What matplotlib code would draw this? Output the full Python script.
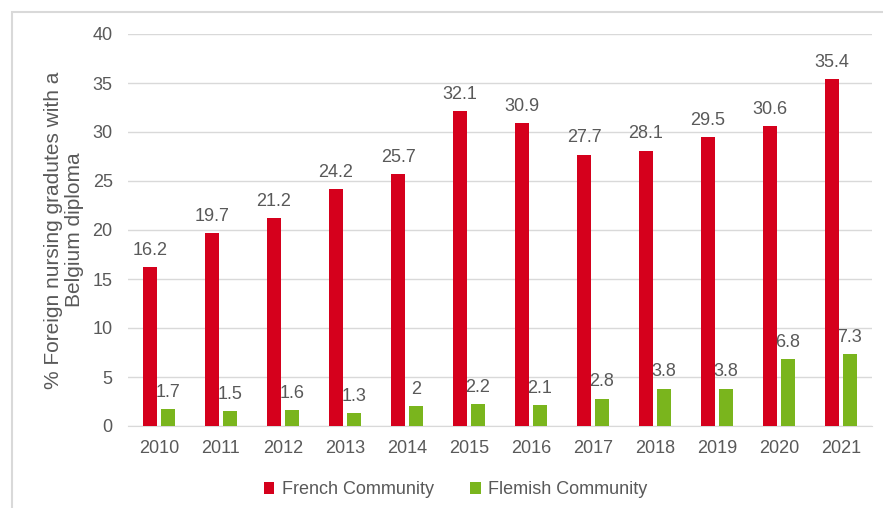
import matplotlib.pyplot as plt
import numpy as np
from matplotlib.patches import Rectangle

plt.rcParams['font.family'] = ['Liberation Sans', 'DejaVu Sans']

years = ['2010', '2011', '2012', '2013', '2014', '2015', '2016', '2017', '2018', '2019', '2020', '2021']
french = [16.2, 19.7, 21.2, 24.2, 25.7, 32.1, 30.9, 27.7, 28.1, 29.5, 30.6, 35.4]
flemish = [1.7, 1.5, 1.6, 1.3, 2, 2.2, 2.1, 2.8, 3.8, 3.8, 6.8, 7.3]

red = '#D5001C'
green = '#7AB51D'
txt = '#595959'
fs = 13

fig = plt.figure(figsize=(8.83, 5.08), dpi=100)
ax = fig.add_axes([128/883, 1-426/508, 744/883, 392/508])

x = np.arange(len(years))
w = 0.226
off = 0.145
ax.bar(x-off, french, w, color=red, label='French Community', zorder=3)
ax.bar(x+off, flemish, w, color=green, label='Flemish Community', zorder=3)

for xi, v in zip(x, french):
    ax.annotate(f'{v:g}', (xi-off, v), xytext=(0, 6), textcoords='offset points',
                ha='center', va='bottom', fontsize=fs, color=txt)
for xi, v in zip(x, flemish):
    ax.annotate(f'{v:g}', (xi+off, v), xytext=(0, 6), textcoords='offset points',
                ha='center', va='bottom', fontsize=fs, color=txt)

ax.set_xlim(-0.5, len(years)-0.5)
ax.set_ylim(0, 40)
ax.set_yticks(np.arange(0, 41, 5))
ax.set_xticks(x)
ax.set_xticklabels(years)
ax.grid(axis='y', color='#D9D9D9', lw=1, zorder=0)
for s in ['top', 'right', 'left']:
    ax.spines[s].set_visible(False)
ax.spines['bottom'].set_color('#D9D9D9')
ax.tick_params(axis='both', length=0, labelsize=fs, colors=txt)
ax.tick_params(axis='x', pad=10)
ax.tick_params(axis='y', pad=11)
ax.set_ylabel('% Foreign nursing gradutes with a\nBelgium diploma', fontsize=15, color=txt,
              labelpad=6, linespacing=1.12)

ax.legend(loc='upper center', bbox_to_anchor=(0.44, -0.1), ncol=2, frameon=False,
          fontsize=fs, labelcolor=txt, handlelength=0.6, handleheight=0.6,
          handletextpad=0.4, columnspacing=2.0)

fig.add_artist(Rectangle((11.5/883, -0.2), 1.5, 1.2-11.5/508, transform=fig.transFigure,
                         fill=False, edgecolor='#D9D9D9', lw=1.5))

plt.savefig('out.png', dpi=100)
